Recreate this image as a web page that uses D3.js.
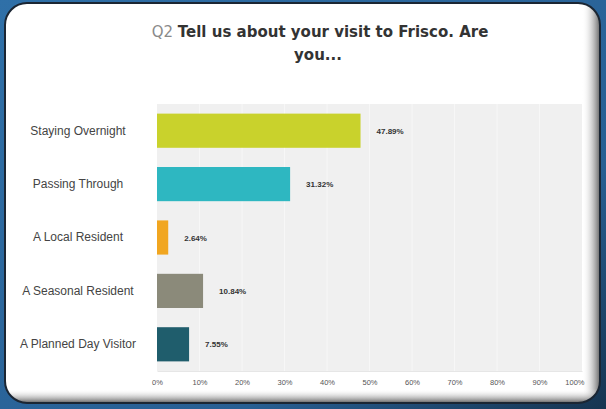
<!DOCTYPE html>
<html>
<head>
<meta charset="utf-8">
<script src="https://cdn.jsdelivr.net/npm/d3@7"></script>
<style>
  html, body { margin: 0; padding: 0; background: #2a679c; }
  svg { display: block; }
</style>
</head>
<body>
<svg id="chart" width="606" height="409"></svg>
<script>
// Survey answers for Q2
const categories = ["Staying Overnight", "Passing Through", "A Local Resident", "A Seasonal Resident", "A Planned Day Visitor"];
const values = [47.89, 31.32, 2.64, 10.84, 7.55];
const valueLabels = ["47.89%", "31.32%", "2.64%", "10.84%", "7.55%"];
const barColors = ["#c9d22c", "#2eb7c1", "#f1a620", "#8b8a7a", "#1f5d6c"];
const tickValues = [0, 10, 20, 30, 40, 50, 60, 70, 80, 90, 100];
const tickLabels = ["0%", "10%", "20%", "30%", "40%", "50%", "60%", "70%", "80%", "90%", "100%"];

const svg = d3.select("#chart");
const W = 606, H = 409;
const defs = svg.append("defs");

// Blue backdrop
const bg = defs.append("linearGradient").attr("id", "bgGrad")
  .attr("x1", 0).attr("y1", 0).attr("x2", 1).attr("y2", 1);
bg.append("stop").attr("offset", "0%").attr("stop-color", "#2f70a8");
bg.append("stop").attr("offset", "70%").attr("stop-color", "#285f93");
bg.append("stop").attr("offset", "100%").attr("stop-color", "#163450");
svg.append("rect").attr("width", W).attr("height", H).attr("fill", "url(#bgGrad)");

// White card with bevelled right and bottom edges
const card = { x: 5, y: 3, w: 595, h: 400, r: 22 };
defs.append("clipPath").attr("id", "cardClip")
  .append("rect").attr("x", card.x).attr("y", card.y).attr("width", card.w).attr("height", card.h)
  .attr("rx", card.r).attr("ry", card.r);

const rightShade = defs.append("linearGradient").attr("id", "rightShade")
  .attr("x1", 0).attr("y1", 0).attr("x2", 1).attr("y2", 0);
rightShade.append("stop").attr("offset", "0%").attr("stop-color", "#ffffff").attr("stop-opacity", 0);
rightShade.append("stop").attr("offset", "100%").attr("stop-color", "#666666").attr("stop-opacity", 1);
const bottomShade = defs.append("linearGradient").attr("id", "bottomShade")
  .attr("x1", 0).attr("y1", 0).attr("x2", 0).attr("y2", 1);
bottomShade.append("stop").attr("offset", "0%").attr("stop-color", "#ffffff").attr("stop-opacity", 0);
bottomShade.append("stop").attr("offset", "100%").attr("stop-color", "#5e5e5e").attr("stop-opacity", 1);

svg.append("rect").attr("x", card.x).attr("y", card.y).attr("width", card.w).attr("height", card.h)
  .attr("rx", card.r).attr("ry", card.r).attr("fill", "#ffffff");
const shade = svg.append("g").attr("clip-path", "url(#cardClip)");
shade.append("rect").attr("x", card.x + card.w - 18).attr("y", card.y).attr("width", 18).attr("height", card.h)
  .attr("fill", "url(#rightShade)");
shade.append("rect").attr("x", card.x).attr("y", card.y + card.h - 14).attr("width", card.w).attr("height", 14)
  .attr("fill", "url(#bottomShade)");
svg.append("rect").attr("x", card.x).attr("y", card.y).attr("width", card.w).attr("height", card.h)
  .attr("rx", card.r).attr("ry", card.r).attr("fill", "none")
  .attr("stroke", "#1b2633").attr("stroke-width", 2);

// Title
const title = svg.append("text").attr("x", 320).attr("y", 37).attr("text-anchor", "middle")
  .attr("font-family", "DejaVu Sans, Verdana, sans-serif").attr("font-size", 15);
title.append("tspan").attr("fill", "#8a8a8a").text("Q2 ");
title.append("tspan").attr("fill", "#333").attr("font-weight", "bold").text("Tell us about your visit to Frisco. Are");
svg.append("text").attr("x", 318).attr("y", 60).attr("text-anchor", "middle")
  .attr("font-family", "DejaVu Sans, Verdana, sans-serif").attr("font-size", 15)
  .attr("font-weight", "bold").attr("fill", "#333").text("you...");

// Plot area
const plot = { left: 157, right: 582, top: 104, bottom: 371 };
const x = d3.scaleLinear().domain([0, 100]).range([plot.left, plot.right]);
const y = d3.scaleBand().domain(categories).range([plot.top, plot.bottom]).paddingInner(0.36).paddingOuter(0.18);

svg.append("rect").attr("x", plot.left).attr("y", plot.top).attr("width", plot.right - plot.left)
  .attr("height", plot.bottom - plot.top).attr("fill", "#f0f0f0");

// Faint vertical gridlines
svg.append("g").selectAll("line").data(tickValues.slice(1, -1)).join("line")
  .attr("x1", d => x(d)).attr("x2", d => x(d))
  .attr("y1", plot.top).attr("y2", plot.bottom)
  .attr("stroke", "#f7f7f7").attr("stroke-width", 1);

// Bars
svg.append("g").selectAll("rect").data(categories).join("rect")
  .attr("x", x(0)).attr("y", d => y(d))
  .attr("width", (d, i) => x(values[i]) - x(0))
  .attr("height", y.bandwidth())
  .attr("fill", (d, i) => barColors[i]);

// Value labels
svg.append("g").selectAll("text").data(categories).join("text")
  .attr("x", (d, i) => x(values[i]) + 16)
  .attr("y", d => y(d) + y.bandwidth() / 2 + 3)
  .attr("font-family", "Liberation Sans, Arial, sans-serif").attr("font-size", 8)
  .attr("font-weight", "bold").attr("fill", "#333")
  .text((d, i) => valueLabels[i]);

// Category axis
const yAxis = d3.axisLeft(y).tickSize(0).tickPadding(0);
const gy = svg.append("g").attr("transform", `translate(${plot.left},0)`).call(yAxis);
gy.select(".domain").remove();
gy.selectAll("text")
  .attr("x", -79).attr("text-anchor", "middle")
  .attr("font-family", "Liberation Sans, Arial, sans-serif").attr("font-size", 12)
  .attr("fill", "#444");

// Percent axis
const xAxis = d3.axisBottom(x).tickValues(tickValues).tickSize(0).tickPadding(9)
  .tickFormat((d, i) => tickLabels[i]);
const gx = svg.append("g").attr("transform", `translate(0,${plot.bottom})`).call(xAxis);
gx.select(".domain").attr("stroke", "#e6e6e6");
gx.selectAll("text")
  .attr("font-family", "Liberation Sans, Arial, sans-serif").attr("font-size", 7.5)
  .attr("fill", "#555");
gx.selectAll(".tick").filter(d => d === 100).select("text").attr("text-anchor", "end").attr("dx", 2);
</script>
</body>
</html>
